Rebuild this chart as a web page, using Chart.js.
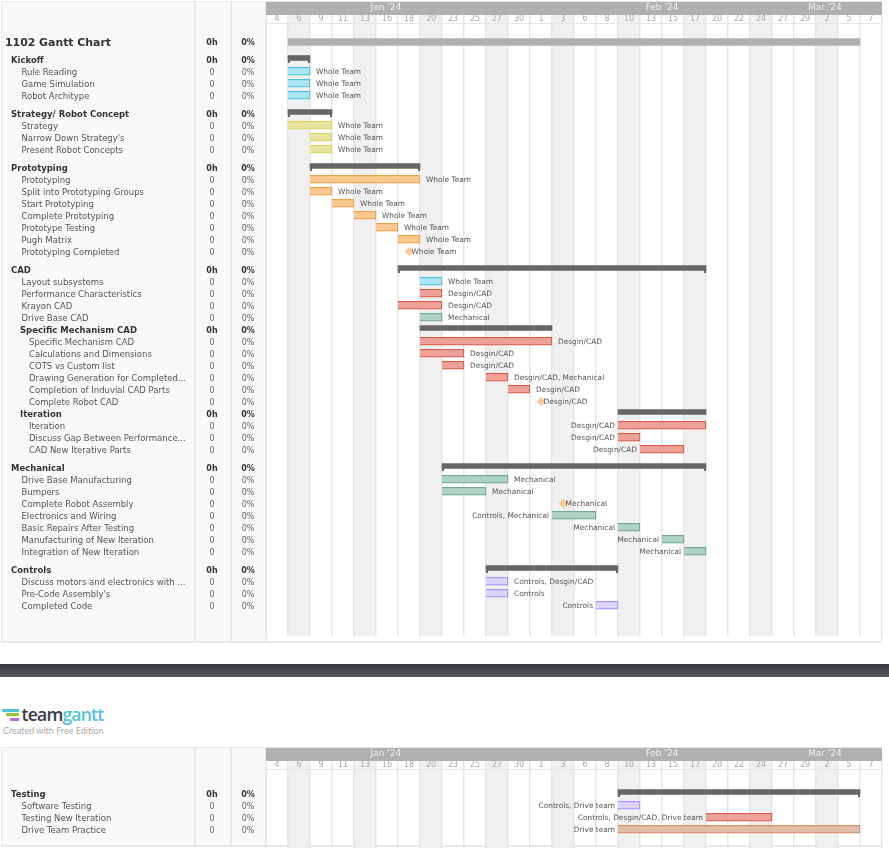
<!DOCTYPE html>
<html>
<head>
<meta charset="utf-8">
<title>1102 Gantt Chart</title>
<script src="https://cdn.jsdelivr.net/npm/chart.js@4"></script>
<style>
    body { margin: 0; background: #fff; width: 889px; height: 848px; overflow: hidden; position: relative; }
    canvas { position: absolute; left: 0; }
    #divider { position: absolute; left: 0; top: 664px; width: 889px; height: 13px; background: linear-gradient(#34383b, #565b5f); }
    #logoText { position: absolute; left: 21.5px; top: 702px; font: 600 17.6px "Open Sans", sans-serif; letter-spacing: -0.8px; color: #363b47; }
    #logoText span { color: #52c3d9; }
    #edition { position: absolute; left: 3px; top: 725px; font: 9px Lato, sans-serif; color: #aaa; }
    .logoBar { position: absolute; height: 3px; }
</style>
</head>
<body>
<canvas id="topChart" style="top:0"></canvas>
<div id="divider"></div>
<div class="logoBar" style="left:2px;top:709px;width:17px;background:#52c3d9"></div>
<div class="logoBar" style="left:6px;top:713px;width:13px;background:#9bc03b"></div>
<div class="logoBar" style="left:10px;top:718px;width:9px;background:#b56fd6"></div>
<div id="logoText">team<span>gantt</span></div>
<div id="edition">Created with Free Edition</div>
<canvas id="bottomChart" style="top:746px"></canvas>

<script>
// header labels
const dayLabels = ["4", "6", "9", "11", "13", "16", "18", "20", "23", "25", "27", "30", "1", "3", "6", "8", "10", "13", "15", "17", "20", "22", "24", "27", "29", "2", "5", "7"];
const shadedColumns = [1, 4, 7, 10, 13, 16, 19, 22, 25];
const monthLabels = ["Jan '24", "Feb '24", "Mar '24"];
const monthTicks = [5.45, 18, 25.4];

// first chart: t title, g group, s sub group, a task, b sub task
const topNames = [
    "1102 Gantt Chart",
    "Kickoff", "Rule Reading", "Game Simulation", "Robot Architype",
    "Strategy/ Robot Concept", "Strategy", "Narrow Down Strategy's", "Present Robot Concepts",
    "Prototyping", "Prototyping", "Split into Prototyping Groups", "Start Prototyping", "Complete Prototyping", "Prototype Testing", "Pugh Matrix", "Prototyping Completed",
    "CAD", "Layout subsystems", "Performance Characteristics", "Krayon CAD", "Drive Base CAD",
    "Specific Mechanism CAD", "Specific Mechanism CAD", "Calculations and Dimensions", "COTS vs Custom list", "Drawing Generation for Completed...", "Completion of Induvial CAD Parts", "Complete Robot CAD",
    "Iteration", "Iteration", "Discuss Gap Between Performance...", "CAD New Iterative Parts",
    "Mechanical", "Drive Base Manufacturing", "Bumpers", "Complete Robot Assembly", "Electronics and Wiring", "Basic Repairs After Testing", "Manufacturing of New Iteration", "Integration of New Iteration",
    "Controls", "Discuss motors and electronics with ...", "Pre-Code Assembly's", "Completed Code"
];
const topKinds = [
    "t",
    "g", "a", "a", "a",
    "g", "a", "a", "a",
    "g", "a", "a", "a", "a", "a", "a", "a",
    "g", "a", "a", "a", "a",
    "s", "b", "b", "b", "b", "b", "b",
    "s", "b", "b", "b",
    "g", "a", "a", "a", "a", "a", "a", "a",
    "g", "a", "a", "a"
];
// start and end in date columns, milestones have no end
const topStarts = [
    1,
    1, 1, 1, 1,
    1, 1, 2, 2,
    2, 2, 2, 3, 4, 5, 6, 6.5,
    6, 7, 7, 6, 7,
    7, 7, 7, 8, 10, 11, 12.5,
    16, 16, 16, 17,
    8, 8, 8, 13.5, 13, 16, 18, 19,
    10, 10, 10, 15
];
const topEnds = [
    27,
    2, 2, 2, 2,
    3, 3, 3, 3,
    7, 7, 3, 4, 5, 6, 7, null,
    20, 8, 8, 8, 8,
    13, 13, 9, 9, 11, 12, null,
    20, 20, 17, 19,
    20, 11, 10, null, 15, 17, 19, 20,
    16, 11, 11, 16
];
const topTones = [
    "title",
    "dark", "cyan", "cyan", "cyan",
    "dark", "yellow", "yellow", "yellow",
    "dark", "orange", "orange", "orange", "orange", "orange", "orange", "orange",
    "dark", "cyan", "red", "red", "green",
    "dark", "red", "red", "red", "red", "red", "orange",
    "dark", "red", "red", "red",
    "dark", "green", "green", "orange", "green", "green", "green", "green",
    "dark", "purple", "purple", "purple"
];
const topPeople = [
    "",
    "", "Whole Team", "Whole Team", "Whole Team",
    "", "Whole Team", "Whole Team", "Whole Team",
    "", "Whole Team", "Whole Team", "Whole Team", "Whole Team", "Whole Team", "Whole Team", "Whole Team",
    "", "Whole Team", "Desgin/CAD", "Desgin/CAD", "Mechanical",
    "", "Desgin/CAD", "Desgin/CAD", "Desgin/CAD", "Desgin/CAD, Mechanical", "Desgin/CAD", "Desgin/CAD",
    "", "Desgin/CAD", "Desgin/CAD", "Desgin/CAD",
    "", "Mechanical", "Mechanical", "Mechanical", "Controls, Mechanical", "Mechanical", "Mechanical", "Mechanical",
    "", "Controls, Desgin/CAD", "Controls", "Controls"
];
// names of the rows whose label sits left of the bar
const topLeftLabels = ["Iteration", "Discuss Gap Between Performance...", "CAD New Iterative Parts", "Electronics and Wiring", "Basic Repairs After Testing", "Manufacturing of New Iteration", "Integration of New Iteration", "Completed Code"];

// second chart
const bottomNames = ["Testing", "Software Testing", "Testing New Iteration", "Drive Team Practice"];
const bottomKinds = ["g", "a", "a", "a"];
const bottomStarts = [16, 16, 20, 16];
const bottomEnds = [27, 17, 23, 27];
const bottomTones = ["dark", "purple", "red", "brown"];
const bottomPeople = ["", "Controls, Drive team", "Controls, Desgin/CAD, Drive team", "Drive team"];
const bottomLeftLabels = ["Software Testing", "Testing New Iteration", "Drive Team Practice"];

const tones = {
    title: ["#b0b0b0", "#b0b0b0"],
    dark: ["#666666", "#666666"],
    cyan: ["#ade6f2", "#43c5e0"],
    yellow: ["#e6e49c", "#d6d463"],
    orange: ["#fbc98f", "#f59f45"],
    red: ["#eda298", "#e05a4a"],
    green: ["#aed3c3", "#72a792"],
    purple: ["#dcd3ff", "#a88fff"],
    brown: ["#e3bca6", "#cd8f68"]
};

const font = "DejaVu Sans, sans-serif";

// the panel behind the names, the month band and the shaded columns
const backgroundPlugin = {
    id: "background",
    beforeDraw(chart) {
        const { ctx, scales, chartArea, height } = chart;
        const frameBottom = height - 3;

        ctx.save();
        ctx.fillStyle = "#f9f9f9";
        ctx.fillRect(2, 2, 264, frameBottom - 2);
        ctx.fillStyle = "#e9e9e9";
        ctx.fillRect(1, 1, 881, 1);
        ctx.fillRect(1, 1, 1, frameBottom);
        ctx.fillRect(881, 1, 1, frameBottom);
        ctx.fillRect(1, frameBottom, 881, 2);
        ctx.fillRect(194, 1, 2, frameBottom);
        ctx.fillRect(230, 1, 2, frameBottom);
        ctx.fillRect(265, 1, 2, frameBottom);

        ctx.fillStyle = "#b0b0b0";
        ctx.fillRect(scales.x.left, scales.months.top, scales.x.width, scales.months.height);

        ctx.fillStyle = "#f0f0f0";
        shadedColumns.forEach(col => {
            const left = scales.x.getPixelForValue(col);
            const right = scales.x.getPixelForValue(col + 1);
            ctx.fillRect(left, scales.days.top, right - left, chartArea.bottom - scales.days.top);
        });

        // line under the day numbers
        ctx.fillStyle = "#e6e6e6";
        ctx.fillRect(scales.x.left, chartArea.top - 1, scales.x.width, 1);
        ctx.restore();
    }
};

function drawGantt(canvasId, height, firstRow, rows) {
    const canvas = document.getElementById(canvasId);
    canvas.width = 889;
    canvas.height = height;

    // rows sit 12px apart, groups get half a row more
    const rowPos = [];
    rows.kinds.forEach((kind, i) => {
        if (i === 0) rowPos.push(firstRow);
        else rowPos.push(rowPos[i - 1] + (kind === "g" ? 1.5 : 1));
    });

    const indexes = rows.names.map((_, i) => i);
    const barRows = indexes.filter(i => rows.ends[i] !== null);
    const pick = test => barRows.filter(test);
    const bars = (list, lift) => list.map(i => ({ x: [rows.starts[i], rows.ends[i]], y: rowPos[i] - lift }));

    const titleRows = pick(i => rows.kinds[i] === "t");
    const groupRows = pick(i => rows.kinds[i] === "g" || rows.kinds[i] === "s");
    const taskRows = pick(i => rows.kinds[i] === "a" || rows.kinds[i] === "b");
    const mileRows = indexes.filter(i => rows.ends[i] === null);

    const labelsPlugin = {
        id: "labels",
        afterDraw(chart) {
            const { ctx, scales } = chart;
            ctx.save();
            ctx.textBaseline = "middle";

            rows.names.forEach((name, i) => {
                const kind = rows.kinds[i];
                const y = scales.y.getPixelForValue(rowPos[i]);
                const bold = kind === "t" || kind === "g" || kind === "s";
                const nameX = { t: 5, g: 11, s: 20, a: 21.5, b: 29 }[kind];

                ctx.textAlign = "left";
                ctx.fillStyle = bold ? "#333" : "#555";
                ctx.font = (bold ? "bold " : "") + (kind === "t" ? "10.9px " : "8.5px ") + font;
                ctx.fillText(name, nameX, y + 1);

                ctx.textAlign = "center";
                ctx.fillStyle = bold ? "#333" : "#666";
                ctx.font = (bold ? "bold " : "") + "8px " + font;
                ctx.fillText(bold ? "0h" : "0", 212, y + 1);
                ctx.fillText("0%", 248, y + 1);

                if (rows.people[i]) {
                    ctx.fillStyle = "#555";
                    ctx.font = "7.4px " + font;
                    const isMile = rows.ends[i] === null;
                    if (rows.left.includes(name) && !isMile) {
                        ctx.textAlign = "right";
                        ctx.fillText(rows.people[i], scales.x.getPixelForValue(rows.starts[i]) - 3, y);
                    } else {
                        const end = isMile ? rows.starts[i] : rows.ends[i];
                        ctx.textAlign = "left";
                        ctx.fillText(rows.people[i], scales.x.getPixelForValue(end) + (isMile ? 2.5 : 6), y);
                    }
                }
            });

            // little end ticks on the top level groups
            ctx.fillStyle = "#666";
            groupRows.filter(i => rows.kinds[i] === "g").forEach(i => {
                const y = scales.y.getPixelForValue(rowPos[i]);
                ctx.fillRect(scales.x.getPixelForValue(rows.starts[i]), y, 2, 3);
                ctx.fillRect(scales.x.getPixelForValue(rows.ends[i]) - 2, y, 2, 3);
            });
            ctx.restore();
        }
    };

    new Chart(canvas, {
        type: "bar",
        data: {
            datasets: [
                {
                    data: bars(titleRows, 0),
                    backgroundColor: titleRows.map(i => tones[rows.tones[i]][0]),
                    barThickness: 7,
                    grouped: false
                },
                {
                    data: bars(groupRows, 2 / 12),
                    backgroundColor: groupRows.map(i => tones[rows.tones[i]][0]),
                    barThickness: 5,
                    grouped: false
                },
                {
                    data: bars(taskRows, 0.75 / 12),
                    backgroundColor: taskRows.map(i => tones[rows.tones[i]][0]),
                    borderColor: taskRows.map(i => tones[rows.tones[i]][1]),
                    borderWidth: 1.25,
                    barThickness: 8,
                    grouped: false
                },
                {
                    type: "scatter",
                    data: mileRows.map(i => ({ x: rows.starts[i], y: rowPos[i] - 0.5 / 12 })),
                    backgroundColor: tones.orange[0],
                    borderColor: tones.orange[0],
                    pointStyle: "rectRot",
                    pointRadius: 4
                }
            ]
        },
        options: {
            indexAxis: "y",
            responsive: false,
            animation: false,
            layout: { padding: { left: 266, right: 7, top: 2, bottom: height - rows.areaBottom } },
            plugins: { legend: { display: false }, tooltip: { enabled: false } },
            scales: {
                x: { type: "linear", min: 0, max: 28, display: false },
                y: { type: "linear", min: 0, max: rows.rowCount, reverse: true, offset: false, display: false },
                days: {
                    type: "category",
                    axis: "x",
                    position: "top",
                    labels: dayLabels,
                    offset: true,
                    afterFit: scale => { scale.height = 9; },
                    border: { display: false },
                    grid: { offset: true, color: "#e5e5e5", lineWidth: 1.5, tickLength: 9 },
                    ticks: { autoSkip: false, maxRotation: 0, padding: -9, color: "#aaa", font: { size: 8, family: font } }
                },
                months: {
                    type: "linear",
                    axis: "x",
                    position: "top",
                    min: 0,
                    max: 28,
                    afterBuildTicks: scale => { scale.ticks = monthTicks.map(v => ({ value: v })); },
                    afterFit: scale => { scale.height = 13; },
                    border: { display: false },
                    grid: { display: false, drawTicks: false },
                    ticks: {
                        autoSkip: false,
                        maxRotation: 0,
                        padding: 2,
                        color: "#efefef",
                        font: { size: 9, family: font },
                        callback: (value, i) => monthLabels[i]
                    }
                }
            }
        },
        plugins: [backgroundPlugin, labelsPlugin]
    });
}

drawGantt("topChart", 644, 1.5, {
    names: topNames, kinds: topKinds, starts: topStarts, ends: topEnds,
    tones: topTones, people: topPeople, left: topLeftLabels,
    rowCount: 51, areaBottom: 636
});

drawGantt("bottomChart", 102, 2, {
    names: bottomNames, kinds: bottomKinds, starts: bottomStarts, ends: bottomEnds,
    tones: bottomTones, people: bottomPeople, left: bottomLeftLabels,
    rowCount: 6.5, areaBottom: 102
});
</script>
</body>
</html>
